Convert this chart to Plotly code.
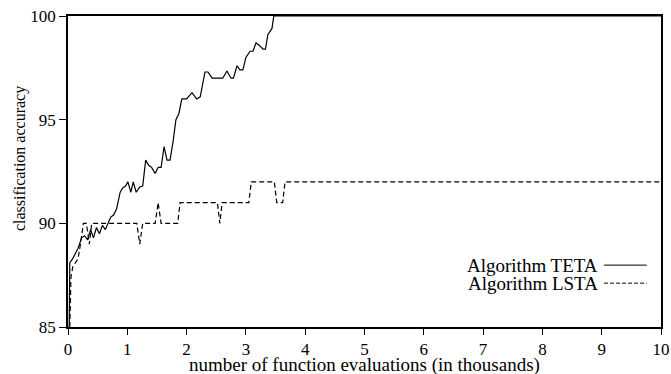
import plotly.graph_objects as go

# Algorithm TETA (solid)
teta_x = [0.02, 0.03, 0.08, 0.12, 0.17, 0.23, 0.28, 0.33, 0.38, 0.43, 0.48, 0.53, 0.58, 0.63,
          0.68, 0.72, 0.77, 0.82, 0.88, 0.92, 0.97, 1.01, 1.06, 1.10, 1.15, 1.21, 1.26, 1.31,
          1.36, 1.41, 1.47, 1.52, 1.57, 1.62, 1.67, 1.72, 1.77, 1.82, 1.87, 1.92, 2.00, 2.09,
          2.17, 2.23, 2.31, 2.36, 2.43, 2.61, 2.68, 2.75, 2.79, 2.85, 2.90, 2.95, 3.00, 3.07,
          3.12, 3.17, 3.22, 3.29, 3.33, 3.37, 3.44, 3.47, 10.0]
teta_y = [85, 88.1, 88.3, 88.5, 88.8, 89.3, 89.4, 89.2, 89.7, 89.3, 89.8, 89.5, 89.9, 89.7,
          90.0, 90.3, 90.4, 90.7, 91.5, 91.7, 91.8, 92.0, 91.5, 92.0, 91.5, 91.75, 91.8, 93.05,
          92.8, 92.7, 92.4, 92.7, 92.7, 93.7, 93.05, 93.05, 93.9, 95.0, 95.3, 96.0, 96.0, 96.3,
          96.0, 96.1, 97.3, 97.3, 97.0, 97.0, 97.35, 97.0, 97.0, 97.6, 97.4, 97.4, 98.0, 98.3,
          98.3, 98.7, 98.6, 98.4, 98.4, 99.1, 99.4, 100, 100]

# Algorithm LSTA (dashed)
lsta_x = [0.03, 0.05, 0.08, 0.12, 0.17, 0.21, 0.26, 0.31, 0.36, 0.40, 1.16, 1.21, 1.26, 1.47,
          1.52, 1.57, 1.85, 1.89, 2.52, 2.56, 2.60, 3.05, 3.09, 3.48, 3.52, 3.62, 3.66, 10.0]
lsta_y = [85, 87.4, 87.9, 88.1, 88.3, 89.0, 90, 90, 89, 90, 90, 89, 90, 90,
          91, 90, 90, 91, 91, 90, 91, 91, 92, 92, 91, 91, 92, 92]

x_ticks = [0, 1, 2, 3, 4, 5, 6, 7, 8, 9, 10]
y_ticks = [85, 90, 95, 100]
series_names = ["Algorithm TETA", "Algorithm LSTA"]
x_title = "number of function evaluations (in thousands)"
y_title = "classification accuracy"

FONT = "Liberation Serif, Times New Roman, serif"

fig = go.Figure()
fig.add_trace(go.Scatter(x=teta_x, y=teta_y, mode="lines", name=series_names[0],
                         line=dict(color="black", width=1.2), cliponaxis=False))
fig.add_trace(go.Scatter(x=lsta_x, y=lsta_y, mode="lines", name=series_names[1],
                         line=dict(color="black", width=1.2, dash="5px,3px"), cliponaxis=False))

# legend drawn as right-aligned text with line samples to the right
leg_y = [0.199, 0.141]
for name, yy in zip(series_names, leg_y):
    fig.add_annotation(x=0.897, y=yy, xref="paper", yref="paper", text=name,
                       showarrow=False, xanchor="right", yanchor="middle",
                       font=dict(family=FONT, size=19, color="black"))
fig.add_shape(type="line", xref="paper", yref="paper", x0=0.904, x1=0.976,
              y0=leg_y[0], y1=leg_y[0], line=dict(color="black", width=1))
fig.add_shape(type="line", xref="paper", yref="paper", x0=0.904, x1=0.976,
              y0=leg_y[1], y1=leg_y[1], line=dict(color="black", width=1, dash="4px,2px"))

# axis titles
fig.add_annotation(x=0.5, y=0, xref="paper", yref="paper", text=x_title, showarrow=False,
                   xanchor="center", yanchor="middle", yshift=-38, borderpad=0,
                   font=dict(family=FONT, size=19, color="black"))
fig.add_annotation(x=0, y=0.54, xref="paper", yref="paper", text=y_title, showarrow=False,
                   xanchor="center", yanchor="middle", xshift=-48, textangle=-90,
                   font=dict(family=FONT, size=16, color="black"))

fig.update_layout(
    width=671, height=374,
    margin=dict(l=68, r=10, t=16, b=47, autoexpand=False),
    paper_bgcolor="white", plot_bgcolor="white",
    showlegend=False,
    font=dict(family=FONT, size=17, color="black"),
    xaxis=dict(range=[0, 10], tickvals=x_ticks, ticks="outside", ticklen=6, tickwidth=1,
               tickcolor="black", showgrid=False, zeroline=False, showline=True,
               linecolor="black", linewidth=1.5, mirror=True, automargin=False),
    yaxis=dict(range=[85, 100], tickvals=y_ticks, ticks="outside", ticklen=7, tickwidth=1,
               tickcolor="black", showgrid=False, zeroline=False, showline=True,
               linecolor="black", linewidth=1.5, mirror=True, automargin=False),
)

# remove the browser's default 8px body margin so the figure sits at the page origin
fig.write_html("out.html", config={"displayModeBar": False},
               post_script="document.body.style.margin='0';")
